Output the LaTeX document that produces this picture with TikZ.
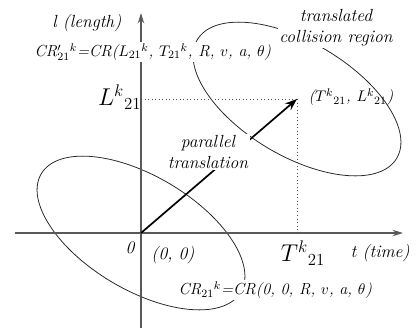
\documentclass[tikz,border=0pt]{standalone}
\usepackage{amssymb}
\usepackage{xcolor}
\usepackage{tikz}
\usetikzlibrary{positioning,arrows.meta}

\begin{document}
\begin{tikzpicture}[every node/.style={fill=white, inner sep=1pt, font=\fontsize{12.5}{15}\selectfont\itshape},
  big/.style={font=\fontsize{18}{20}\selectfont},
  formula/.style={font=\fontsize{11.4}{14}\selectfont\itshape},
  axis/.style={draw=black!65, line width=0.9pt, -{Stealth[length=2.6mm, width=1.6mm]}},
  region/.style={draw=black!85, line width=0.55pt},
  guide/.style={draw=black!70, dotted, line width=0.5pt}]
  \useasboundingbox (-3.525,-2.475) rectangle (6.875,5.825);
  \coordinate (o) at (0,0);
  \coordinate (p) at (3.9,3.35);
  \coordinate (tl) at (-3.15,0);
  \coordinate (tr) at (6.55,0);
  \coordinate (lb) at (0,-2.375);
  \coordinate (lt) at (0,5.5);

  % collision regions
  \draw[region, shift={(o)}, rotate=-30.7] (0,0) ellipse [x radius=2.9, y radius=1.425];
  \draw[region, shift={(p)}, rotate=-30.7] (0,0) ellipse [x radius=2.9, y radius=1.425];

  % axes
  \draw[axis] (tl) -- (tr);
  \draw[axis] (lb) -- (lt);
  \draw[guide] (o |- p) -- (p);
  \draw[guide] (p) -- (p |- o);

  \draw[line width=1.2pt, -{Stealth[length=3mm, width=2.2mm]}] (o) -- (p);

  \node[align=center] (move) at (1.675,2.025) {parallel\\translation};
  \node[anchor=east] (len) at (-0.45,5.25) {l (length)};
  \node[anchor=west] (time) at (5.2,-0.5) {t (time)};
  \node (zero) at (-0.275,-0.375) {0};
  \node (orig) at (0.8,-0.55) {(0, 0)};
  \node[big, fill=none, anchor=east] (lk) at (0.05,3.4) {$L^{k}{}_{21}$};
  \node[big, fill=none] (tk) at (4.05,-0.5) {$T^{k}{}_{21}$};
  \node[formula, fill=none, anchor=west] (pt) at (4.15,3.4) {($T^{k}{}_{21}$, $L^{k}{}_{21}$)};
  \node[align=center] (trans) at (4.875,5.125) {translated\\collision region};
  \node[formula, anchor=west] (crnew) at (-2.7,4.525) {CR$'_{21}{}^{k}$=CR($L_{21}{}^{k}$, $T_{21}{}^{k}$, R, $v$, a, $\theta$)};
  \node[formula, anchor=west] (crold) at (0.9,-1.425) {CR$_{21}{}^{k}$=CR(0, 0, R, $v$, a, $\theta$)};
\end{tikzpicture}
\end{document}
